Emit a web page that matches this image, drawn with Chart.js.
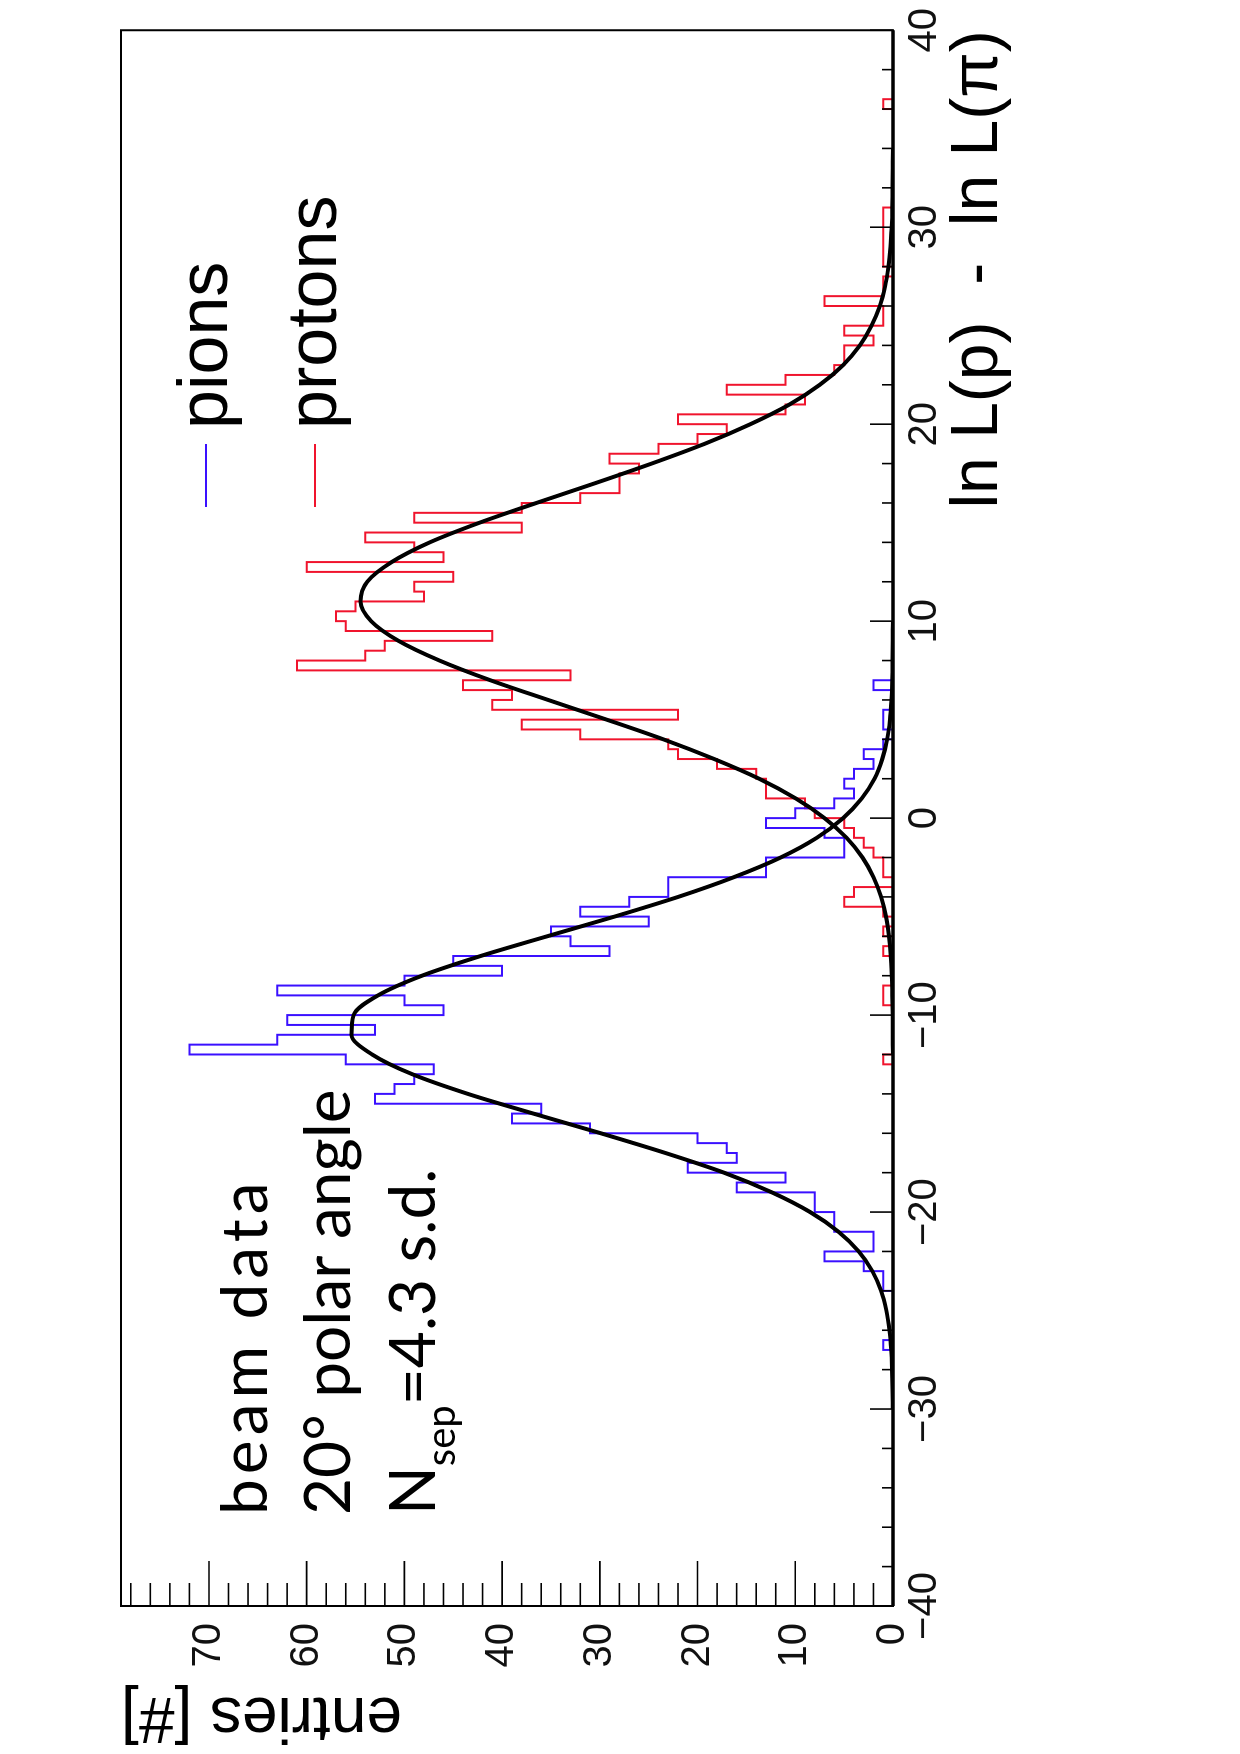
<!DOCTYPE html>
<html>
<head>
<meta charset="utf-8">
<script src="https://cdn.jsdelivr.net/npm/chart.js@4.4.1/dist/chart.umd.min.js"></script>
<style>
  html, body { margin: 0; padding: 0; background: #fff; overflow: hidden; }
  body { width: 1240px; height: 1754px; position: relative; }
  /* the plot is drawn landscape and turned a quarter turn to the left */
  #wrap { position: absolute; left: 0; top: 0; width: 1754px; height: 1240px;
          transform-origin: 0 0; transform: translateY(1754px) rotate(-90deg); }
</style>
</head>
<body>
<div id="wrap"><canvas id="myChart" width="1754" height="1240"></canvas></div>
<script>
const binWidth = 0.5;

// pions, bins of 0.5 starting at -27
const pionFirstEdge = -27;
const pionCounts = [
  1, 0, 0, 0, 0, 0, 1, 1, 3, 7, 2, 2, 6, 6, 8, 8, 16, 11, 21, 16,
  17, 20, 31, 39, 36, 53, 51, 49, 47, 56, 72, 63, 53, 62, 46, 50, 63, 50, 40, 45,
  29, 33, 35, 25, 32, 27, 23, 23, 13, 13, 5, 5, 7, 13, 10, 6, 4, 5, 4, 2,
  3, 1, 0, 1, 1, 0, 0, 2
];

// protons, bins of 0.5 starting at -12.5
const protonFirstEdge = -12.5;
const protonCounts = [
  1, 0, 0, 0, 0, 0, 1, 1, 0, 0, 0, 1, 0, 1, 0, 1, 5, 4, 0, 1,
  1, 2, 3, 4, 5, 8, 9, 13, 13, 14, 18, 22, 23, 32, 38, 22, 41, 39, 44, 33,
  61, 54, 52, 41, 56, 57, 55, 48, 49, 45, 60, 46, 49, 54, 38, 49, 38, 32, 28, 28,
  26, 29, 24, 20, 17, 22, 11, 9, 17, 11, 6, 5, 5, 2, 5, 1, 1, 7, 1, 1,
  0, 1, 1, 1, 1, 1, 1, 0, 0, 0, 0, 0, 0, 0, 0, 0, 0, 1
];

// gaussian fits, read every unit
const pionFitFrom = -30;
const pionFit = [
  0.02, 0.04, 0.09, 0.18, 0.36, 0.68, 1.22, 2.11, 3.5, 5.57, 8.48, 12.4, 17.3, 23.3,
  29.9, 36.8, 43.5, 49.2, 53.3, 55.4, 55.2, 52.7, 48.2, 42.2, 35.4, 28.5, 22.0, 16.3,
  11.5, 7.8, 5.1, 3.2, 1.9, 1.1, 0.6, 0.31, 0.16, 0.08, 0.04, 0.02, 0.01
];
const protonFitFrom = -12;
const protonFit = [
  0.01, 0.02, 0.03, 0.07, 0.13, 0.23, 0.42, 0.72, 1.22, 1.99, 3.12, 4.75,
  7.0, 9.96, 13.7, 18.3, 23.5, 29.3, 35.3, 41.2, 46.4, 50.6, 53.4, 54.5, 53.8, 51.3,
  47.4, 42.3, 36.5, 30.5, 24.7, 19.3, 14.6, 10.6, 7.5, 5.1, 3.4, 2.2, 1.35, 0.81,
  0.47, 0.26, 0.14, 0.07, 0.04, 0.02, 0.01
];

const notes = ['beam data', '20\u00b0 polar angle'];

function histPoints(first, counts) {
  const pts = [{x: -40, y: 0}, {x: first, y: 0}];
  counts.forEach((c, i) => pts.push({x: first + i * binWidth, y: c}));
  pts.push({x: first + counts.length * binWidth, y: 0});
  pts.push({x: 40, y: 0});
  return pts;
}

function fitPoints(from, vals) {
  return vals.map((v, i) => ({x: from + i, y: v}));
}

// ROOT style frame and inward ticks
const frameTicks = {
  id: 'frameTicks',
  afterDatasetsDraw(chart) {
    const {ctx, chartArea: a, scales: {x, y}} = chart;
    ctx.save();
    ctx.strokeStyle = '#000';
    ctx.lineWidth = 2;
    ctx.strokeRect(a.left, a.top, a.right - a.left, a.bottom - a.top);
    ctx.lineWidth = 3.5;
    ctx.beginPath(); ctx.moveTo(a.left, a.bottom); ctx.lineTo(a.right, a.bottom); ctx.stroke();
    ctx.lineWidth = 1.6;
    for (let v = -40; v <= 40; v += 2) {
      const px = x.getPixelForValue(v);
      const len = v % 10 === 0 ? 23 : 11;
      ctx.beginPath(); ctx.moveTo(px, a.bottom); ctx.lineTo(px, a.bottom - len); ctx.stroke();
    }
    for (let c = 0; c <= 78; c += 2) {
      const py = y.getPixelForValue(c);
      const len = c % 10 === 0 ? 45 : 23;
      ctx.beginPath(); ctx.moveTo(a.left, py); ctx.lineTo(a.left + len, py); ctx.stroke();
    }
    ctx.restore();
  }
};

const legendNotes = {
  id: 'legendNotes',
  afterDraw(chart) {
    const ctx = chart.ctx;
    ctx.save();
    // legend
    const items = chart.data.datasets.filter(d => d.inLegend);
    ctx.font = '70px "Liberation Sans"';
    ctx.textBaseline = 'alphabetic';
    items.forEach((d, i) => {
      const yy = 206 + i * 109;
      ctx.strokeStyle = d.borderColor;
      ctx.lineWidth = 2;
      ctx.beginPath(); ctx.moveTo(1247, yy); ctx.lineTo(1310, yy); ctx.stroke();
      ctx.fillStyle = '#000';
      ctx.fillText(d.label, 1325, yy + 21);
    });
    // text block
    ctx.fillStyle = '#000';
    ctx.font = '64px Lato';
    ctx.letterSpacing = '5px';
    ctx.fillText(notes[0], 239, 267);
    ctx.letterSpacing = '0px';
    ctx.fillText(notes[1], 239, 350);
    let xx = 239;
    ctx.fillText('N', xx, 435);
    xx += ctx.measureText('N').width;
    ctx.font = '40px Lato';
    ctx.fillText('sep', xx, 455);
    xx += ctx.measureText('sep').width;
    ctx.font = '64px Lato';
    ctx.fillText('=4.3 s.d.', xx, 435);
    ctx.restore();
  }
};

const chart = document.getElementById('myChart');
const tickFont = {family: 'Liberation Sans', size: 40};

new Chart(chart, {
  type: 'line',
  data: {
    datasets: [
      {label: 'pion fit', data: fitPoints(pionFitFrom, pionFit), borderColor: '#000',
       borderWidth: 4, pointRadius: 0, cubicInterpolationMode: 'monotone', fill: false},
      {label: 'proton fit', data: fitPoints(protonFitFrom, protonFit), borderColor: '#000',
       borderWidth: 4, pointRadius: 0, cubicInterpolationMode: 'monotone', fill: false},
      {label: 'pions', inLegend: true, data: histPoints(pionFirstEdge, pionCounts),
       borderColor: '#3a10ff', borderWidth: 2, pointRadius: 0, stepped: true, fill: false,
       borderJoinStyle: 'miter'},
      {label: 'protons', inLegend: true, data: histPoints(protonFirstEdge, protonCounts),
       borderColor: '#f0142d', borderWidth: 2, pointRadius: 0, stepped: true, fill: false,
       borderJoinStyle: 'miter'}
    ]
  },
  options: {
    responsive: false,
    animation: false,
    devicePixelRatio: 1,
    layout: {padding: {top: 121, right: 24, bottom: 0, left: 0}},
    plugins: {legend: {display: false}, tooltip: {enabled: false}},
    scales: {
      x: {
        type: 'linear', min: -40, max: 40,
        grid: {display: false, drawTicks: false},
        border: {display: false},
        ticks: {
          stepSize: 10, padding: 8, color: '#111', font: tickFont,
          maxRotation: 0, autoSkip: false,
          callback: v => (v < 0 ? '\u2212' + Math.abs(v) : String(v))
        },
        title: {
          display: true, text: 'ln L(p)  -  ln L(\u03c0)', align: 'end', color: '#000',
          font: {family: 'Liberation Sans', size: 66}, padding: {top: 0, bottom: 222}
        },
        afterFit: s => { s.height = 347; }
      },
      y: {
        min: 0, max: 79,
        grid: {display: false, drawTicks: false},
        border: {display: false},
        ticks: {stepSize: 10, includeBounds: false, padding: 17, color: '#111', font: tickFont},
        title: {
          display: true, text: 'entries [#]', align: 'end', color: '#000',
          font: {family: 'Liberation Sans', size: 64}, padding: {top: 0, bottom: 0}
        },
        afterFit: s => { s.width = 148; }
      }
    }
  },
  plugins: [frameTicks, legendNotes]
});
</script>
</body>
</html>
